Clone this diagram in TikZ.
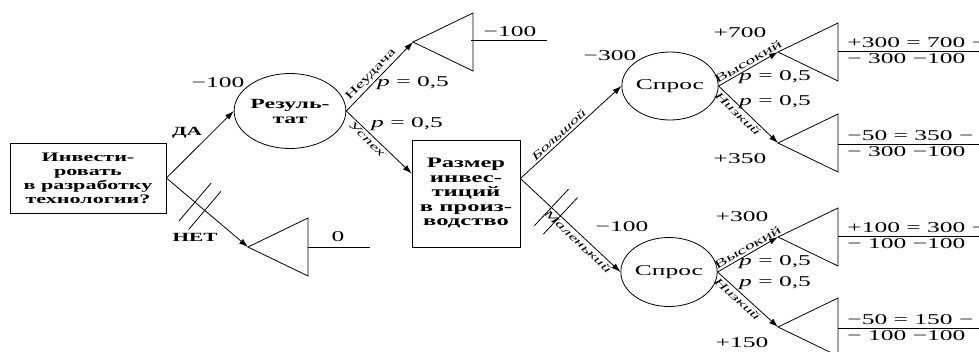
\documentclass[tikz,border=0pt]{standalone}
\usepackage{fontspec}
\setmainfont{Liberation Serif}[FakeStretch=1.7]
\usetikzlibrary{arrows.meta, shapes.geometric, calc}
\tikzset{
  every picture/.style={line width=0.8pt, x=1pt, y=-1pt},
  decision/.style={draw, rectangle, align=center, inner sep=0pt, font=\fontsize{13}{14}\selectfont\bfseries},
  chance/.style={draw, ellipse, align=center, inner sep=0pt, font=\fontsize{15}{15}\selectfont},
  arrow/.style={-{Latex[length=9pt, width=6pt]}},
  value/.style={font=\fontsize{15}{15}\selectfont, inner sep=1pt},
  answer/.style={font=\fontsize{12.5}{13}\selectfont\bfseries, inner sep=1pt},
  branch/.style={font=\fontsize{11.5}{11.5}\selectfont, sloped, inner sep=2pt},
  slanted/.style={branch, font=\fontsize{11}{11}\selectfont\itshape},
  leaf/.pic={\draw (0,0) -- (60,-29) -- (60,29) -- cycle;},
}

\begin{document}
\begin{tikzpicture}
  \clip (0,0) rectangle (979,351);
  % first decision
  \node[decision, minimum width=156, minimum height=70] (invest) at (88,178) {Инвести-\\ровать\\в разработку\\технологии?};
  \node[chance, minimum width=95, minimum height=75, font=\fontsize{14}{15}\selectfont\bfseries] (result) at (290,111) {Резуль-\\тат};
  \coordinate (none) at (248,247);
  \pic at (none) {leaf};
  \draw (308,247) -- (370,247);
  \node[value] (zero) at (338,237) {0};
  \draw[arrow] (invest.east) -- (result.west);
  \draw[arrow] (invest.east) -- (none);
  \node[answer] (yes) at (187,133) {ДА};
  \node[answer] (no) at (195,237) {НЕТ};
  \node[value] (costA) at (218,83) {−100};
  \coordinate (m1) at ($(invest.east)!0.35!(none)$);
  \coordinate (m2) at ($(invest.east)!0.47!(none)$);
  \draw ($(m1)!25pt!90:(none)$) -- ($(m1)!25pt!-90:(none)$);
  \draw ($(m2)!25pt!90:(none)$) -- ($(m2)!25pt!-90:(none)$);
  % research result
  \coordinate (fail) at (413,42);
  \pic at (fail) {leaf};
  \draw (471,40) -- (547,40);
  \node[value] (loss) at (510,32) {−100};
  \node[decision, minimum width=108, minimum height=107, font=\fontsize{14.5}{14.5}\selectfont\bfseries] (size) at (466,193.5) {Размер\\инвес-\\тиций\\в произ-\\водство};
  \draw[arrow] (result.east) -- node[branch, above, pos=0.45] {Неудача} (fail);
  \draw[arrow] (result.east) -- node[slanted, below, pos=0.38] {Успех} ([yshift=20pt]size.west);
  \node[value] (pFail) at (413,83) {\textit{p} = 0,5};
  \node[value] (pWin) at (407,124) {\textit{p} = 0,5};
  % production size
  \node[chance, minimum width=83, minimum height=68] (demandA) at (670,86) {Спрос};
  \node[chance, minimum width=82, minimum height=69] (demandB) at (669,272) {Спрос};
  \coordinate (fork) at ([yshift=15pt]size.east);
  \draw[arrow] (fork) -- node[slanted, above, pos=0.42] {Большой} (demandA.west);
  \draw[arrow] (fork) -- node[slanted, below, pos=0.62] {Маленький} (demandB.west);
  \node[value] (costB) at (610,56) {−300};
  \node[value] (costC) at (622,227) {−100};
  \coordinate (m3) at ($(fork)!0.31!(demandB.west)$);
  \coordinate (m4) at ($(fork)!0.40!(demandB.west)$);
  \draw ($(m3)!25pt!90:(demandB.west)$) -- ($(m3)!25pt!-90:(demandB.west)$);
  \draw ($(m4)!25pt!90:(demandB.west)$) -- ($(m4)!25pt!-90:(demandB.west)$);
  % big plant
  \coordinate (hiA) at (778,52);
  \coordinate (loA) at (778,143);
  \pic at (hiA) {leaf};
  \pic at (loA) {leaf};
  \draw[arrow] (demandA.east) -- node[branch, above, pos=0.55] {Высокий} (hiA);
  \draw[arrow] (demandA.east) -- node[slanted, below, pos=0.4] {Низкий} (loA);
  \node[value] (gainA) at (740,33) {+700};
  \node[value] (gainB) at (740,159) {+350};
  \node[value] (pA1) at (775,77) {\textit{p} = 0,5};
  \node[value] (pA2) at (775,102) {\textit{p} = 0,5};
  \draw (838,51) -- (979,51);
  \draw (838,144) -- (979,144);
  \node[value, anchor=base west] (resA1) at (846,47) {+300 = 700 −};
  \node[value, anchor=base west] (resA2) at (846,63) {− 300 −100};
  \node[value, anchor=base west] (resA3) at (846,140) {−50 = 350 −};
  \node[value, anchor=base west] (resA4) at (846,156) {− 300 −100};
  % small plant
  \coordinate (hiB) at (778,237);
  \coordinate (loB) at (778,327);
  \pic at (hiB) {leaf};
  \pic at (loB) {leaf};
  \draw[arrow] (demandB.east) -- node[branch, above, pos=0.55] {Высокий} (hiB);
  \draw[arrow] (demandB.east) -- node[slanted, below, pos=0.4] {Низкий} (loB);
  \node[value] (gainC) at (742,217) {+300};
  \node[value] (gainD) at (742,343) {+150};
  \node[value] (pB1) at (775,262) {\textit{p} = 0,5};
  \node[value] (pB2) at (775,283) {\textit{p} = 0,5};
  \draw (838,236) -- (979,236);
  \draw (838,328) -- (979,328);
  \node[value, anchor=base west] (resB1) at (846,232) {+100 = 300 −};
  \node[value, anchor=base west] (resB2) at (846,248) {− 100 −100};
  \node[value, anchor=base west] (resB3) at (846,324) {−50 = 150 −};
  \node[value, anchor=base west] (resB4) at (846,340) {− 100 −100};
\end{tikzpicture}
\end{document}
